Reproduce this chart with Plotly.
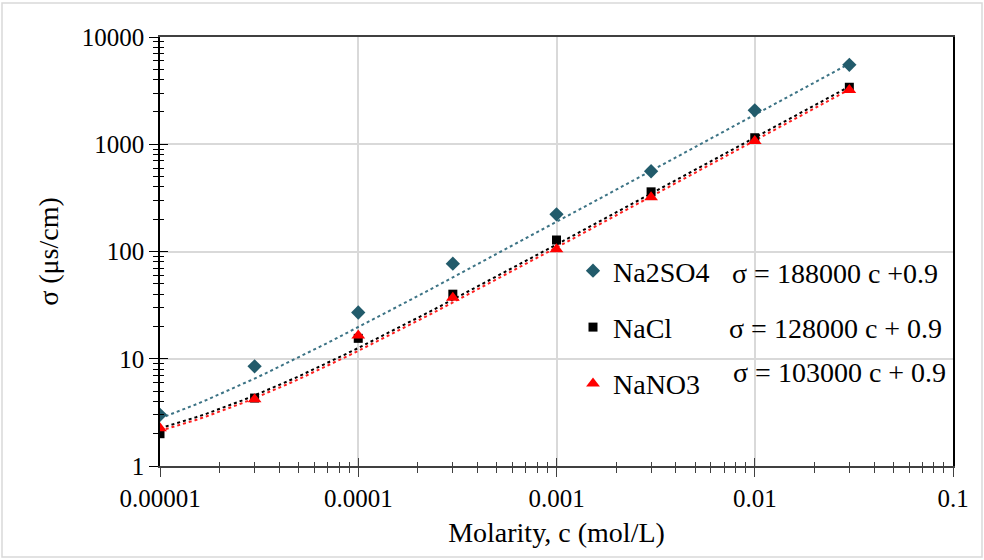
import numpy as np
import plotly.graph_objects as go

# Data
molarity = [0.00001, 0.00003, 0.0001, 0.0003, 0.001, 0.003, 0.01, 0.03]
na2so4 = [3.0, 8.5, 27, 77, 222, 560, 2070, 5500]
nacl = [2.0, 4.3, 15.5, 40, 128, 360, 1150, 3400]
nano3 = [2.25, 4.2, 16.5, 37, 105, 320, 1070, 3200]

series_names = ["Na2SO4", "NaCl", "NaNO3"]
# dotted trend lines as drawn on the chart (slope, intercept)
trend_slopes = [188000, 115000, 108000]
trend_intercepts = [0.9, 1.1, 1.05]
equations = ["σ = 188000 c +0.9", "σ = 128000 c + 0.9", "σ = 103000 c + 0.9"]

x_ticks = [0.00001, 0.0001, 0.001, 0.01, 0.1]
x_ticklabels = ["0.00001", "0.0001", "0.001", "0.01", "0.1"]
y_ticks = [1, 10, 100, 1000, 10000]
y_ticklabels = ["1", "10", "100", "1000", "10000"]

marker_colors = ["#225B6B", "#000000", "#FF0000"]
line_colors = ["#3C7385", "#000000", "#FF2020"]
symbols = ["diamond", "square", "triangle-up"]
sizes = [11, 9, 12]

FONT = "Liberation Serif"

fig = go.Figure()

c_fit = np.geomspace(molarity[0], molarity[-1], 60)
for name, a, b, lc in zip(series_names, trend_slopes, trend_intercepts, line_colors):
    fig.add_trace(go.Scatter(
        x=c_fit, y=a * c_fit + b, mode="lines",
        line=dict(color=lc, width=2, dash="dot"),
        showlegend=False, hoverinfo="skip"))

for name, vals, mc, sym, sz in zip(series_names, [na2so4, nacl, nano3],
                                   marker_colors, symbols, sizes):
    fig.add_trace(go.Scatter(
        x=molarity, y=vals, mode="markers", name=name, legendgroup=name,
        marker=dict(color=mc, symbol=sym, size=sz, line=dict(width=0))))

# dummy trace on overlay axes to create cross ticks
fig.add_trace(go.Scatter(x=[None], y=[None], xaxis="x2", yaxis="y2",
                         showlegend=False, hoverinfo="skip"))

tick_font = dict(family=FONT, size=25, color="#000000")
title_font = dict(family=FONT, size=28, color="#000000")

fig.update_layout(
    width=984, height=560,
    margin=dict(l=160, r=31, t=37, b=94),
    paper_bgcolor="white", plot_bgcolor="white",
    font=dict(family=FONT, size=25, color="#000000"),
    xaxis=dict(
        type="log", range=[-5, -1],
        tickvals=x_ticks, ticktext=x_ticklabels, tickfont=tick_font,
        ticks="outside", ticklen=9, tickwidth=1.3, tickcolor="#404040",
        minor=dict(ticks="outside", ticklen=5, tickwidth=1, tickcolor="#404040",
                   dtick="D1", showgrid=False),
        showgrid=True, gridcolor="#D9D9D9", gridwidth=1.5,
        showline=True, linecolor="#404040", linewidth=1.5, mirror=True,
        zeroline=False,
        title=dict(text="Molarity, c (mol/L)", font=title_font, standoff=12),
    ),
    yaxis=dict(
        type="log", range=[0, 4],
        tickvals=y_ticks, ticktext=y_ticklabels, tickfont=tick_font,
        ticks="outside", ticklen=9, tickwidth=1.3, tickcolor="#000000",
        minor=dict(ticks="outside", ticklen=5, tickwidth=1, tickcolor="#000000",
                   dtick="D1", showgrid=False),
        showgrid=True, gridcolor="#D9D9D9", gridwidth=1.5,
        showline=True, linecolor="#000000", linewidth=1.5, mirror=True,
        zeroline=False,
        title=dict(text="σ (μs/cm)", font=title_font, standoff=15),
    ),
    xaxis2=dict(
        type="log", range=[-5, -1], overlaying="x", anchor="y", side="bottom",
        tickvals=x_ticks, showticklabels=False,
        ticks="inside", ticklen=8, tickwidth=1.3, tickcolor="#404040",
        minor=dict(ticks="inside", ticklen=4, tickwidth=1, tickcolor="#404040",
                   dtick="D1", showgrid=False),
        showgrid=False, showline=False, zeroline=False,
    ),
    yaxis2=dict(
        type="log", range=[0, 4], overlaying="y", anchor="x", side="left",
        tickvals=y_ticks, showticklabels=False,
        ticks="inside", ticklen=8, tickwidth=1.3, tickcolor="#000000",
        minor=dict(ticks="inside", ticklen=4, tickwidth=1, tickcolor="#000000",
                   dtick="D1", showgrid=False),
        showgrid=False, showline=False, zeroline=False,
    ),
    legend=dict(
        x=(573 - 160) / 793, y=(466 - 246) / 429, xanchor="left", yanchor="top",
        bgcolor="rgba(0,0,0,0)", borderwidth=0,
        font=dict(family=FONT, size=28, color="#000000"),
        traceorder="grouped", tracegroupgap=17, itemsizing="trace",
    ),
    showlegend=True,
)

eq_y = [273, 328, 372]
eq_x = [940, 944, 948]
for txt, yy, xx in zip(equations, eq_y, eq_x):
    fig.add_annotation(
        text=txt, xref="paper", yref="paper",
        x=(xx - 160) / 793, y=(466 - yy) / 429,
        xanchor="right", yanchor="middle", showarrow=False,
        font=dict(family=FONT, size=28, color="#000000"))

# outer light border of the chart area
fig.add_shape(type="rect", xref="paper", yref="paper",
              x0=(2 - 160) / 793, x1=(982 - 160) / 793,
              y0=(466 - 557) / 429, y1=(466 - 3) / 429,
              line=dict(color="#D9D9D9", width=1.5), layer="below")

fig.write_html("out.html")
